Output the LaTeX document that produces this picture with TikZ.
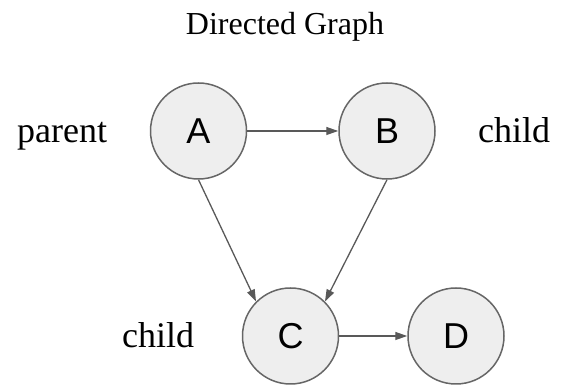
\documentclass[tikz,border=0pt]{standalone}
\usepackage{fontspec}
\setmainfont{Liberation Serif}
\newfontfamily\nodefont{Liberation Sans}
\usetikzlibrary{arrows.meta}
\definecolor{nodefill}{HTML}{EEEEEE}
\definecolor{nodeline}{HTML}{666666}
\definecolor{edgecol}{HTML}{595959}
\tikzset{
  vertex/.style={circle, draw=nodeline, fill=nodefill, line width=1.5pt, minimum size=96pt, inner sep=0pt, font=\nodefont\fontsize{36}{40}\selectfont},
  edge/.style={draw=edgecol, line width=1.3pt, -{Triangle[length=12pt,width=8pt]}},
  lbl/.style={anchor=base west, inner sep=0pt, font=\fontsize{36}{40}\selectfont},
  titlestyle/.style={anchor=base, inner sep=0pt, font=\fontsize{32}{36}\selectfont},
}
\begin{document}
\begin{tikzpicture}[x=1pt,y=1pt]
\useasboundingbox (0,0) rectangle (567,387);
\node[titlestyle] (title) at (285,352) {Directed Graph};
\node[vertex] (A) at (198.5,256) {A};
\node[vertex] (B) at (387,256) {B};
\node[vertex] (C) at (290.5,51) {C};
\node[vertex] (D) at (456,51) {D};
\node[lbl] (parent) at (17,244) {parent};
\node[lbl] (childB) at (478,244) {child};
\node[lbl] (childC) at (122,39) {child};
\draw[edge] (A.east) -- (B.west);
\draw[edge] (A.south) -- (C.north west);
\draw[edge] (B.south) -- (C.north east);
\draw[edge] (C.east) -- (D.west);
\end{tikzpicture}
\end{document}
